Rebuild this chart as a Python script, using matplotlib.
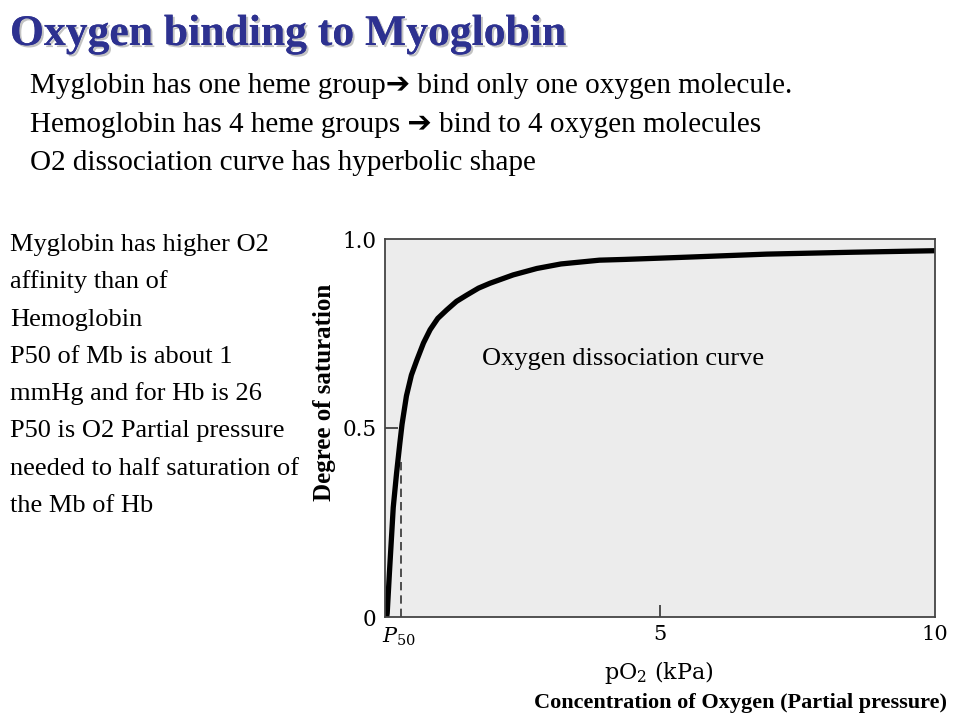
import numpy as np
import matplotlib.pyplot as plt
import matplotlib.patheffects as pe

# values
po2 = [0.03, 0.04, 0.08, 0.15, 0.21, 0.27, 0.31, 0.39, 0.48, 0.58, 0.70, 0.82, 0.96,
       1.12, 1.30, 1.49, 1.70, 1.91, 2.33, 2.76, 3.20, 3.90, 4.36, 5.50, 6.94, 8.50, 10.0]
sat = [0.0, 0.01, 0.116, 0.29, 0.38, 0.46, 0.51, 0.585, 0.64, 0.68, 0.725, 0.76, 0.79,
       0.812, 0.835, 0.852, 0.87, 0.883, 0.905, 0.922, 0.934, 0.944, 0.946, 0.952, 0.960, 0.965, 0.969]
p50_x = 0.29
p50_top = 0.415

x_ticks = [0.25, 5, 10]
x_labels = ['$P_{50}$', '5', '10']
y_ticks = [0, 0.5, 1.0]
y_labels = ['0', '0.5', '1.0']

title = 'Oxygen binding to Myoglobin'
top_lines = ['Myglobin has one heme group\u2794 bind only one oxygen molecule.',
             'Hemoglobin has 4 heme groups \u2794 bind to 4 oxygen molecules',
             'O2 dissociation curve has hyperbolic shape']
side_lines = ['Myglobin has higher O2', 'affinity than of', 'Hemoglobin',
              'P50 of Mb is about 1', 'mmHg and for Hb is 26',
              'P50 is O2 Partial pressure', 'needed to half saturation of',
              'the Mb of Hb']

W, H = 960, 720


def fx(x):
    return x / W


def fy(y):
    return 1 - y / H


serif = ['Liberation Serif', 'DejaVu Sans']
plt.rcParams['mathtext.fontset'] = 'dejavuserif'

fig = plt.figure(figsize=(9.6, 7.2), dpi=100)
ax = fig.add_axes([fx(385), fy(617), fx(550), 378 / H])
ax.set_facecolor('#ececec')

ax.plot(po2, sat, color='black', lw=3.8, solid_capstyle='butt', solid_joinstyle='round')
ax.plot([p50_x, p50_x], [0, p50_top], color='#333333', lw=1.2, ls=(0, (5, 3)))

ax.set_xlim(0, 10)
ax.set_ylim(0, 1.0)
for s in ax.spines.values():
    s.set_color('#444444')
    s.set_linewidth(1.3)

ax.set_xticks(x_ticks)
ax.set_xticklabels(x_labels, fontfamily='DejaVu Serif', fontsize=15)
ax.set_yticks(y_ticks)
ax.set_yticklabels(y_labels, fontfamily='DejaVu Serif', fontsize=15.5)
ax.tick_params(direction='in', length=9, width=1.2, color='#333333', pad=6)
ax.xaxis.get_major_ticks()[0].tick1line.set_visible(False)
ax.xaxis.get_major_ticks()[2].tick1line.set_visible(False)
ax.yaxis.get_major_ticks()[0].tick1line.set_visible(False)
ax.yaxis.get_major_ticks()[2].tick1line.set_visible(False)

fig.text(fx(482), fy(365), 'Oxygen dissociation curve', family=serif, fontsize=19,
         va='baseline', ha='left')

fig.text(fx(324), fy(392), 'Degree of saturation', family=serif, fontsize=18,
         fontweight='bold', rotation=90, va='center', ha='center')
fig.text(fx(659), fy(672), 'pO$_2$ (kPa)', family='DejaVu Serif', fontsize=16,
         va='center', ha='center')
fig.text(fx(947), fy(703), 'Concentration of Oxygen (Partial pressure)', family=serif,
         fontsize=16, fontweight='bold', va='center', ha='right')

fig.text(fx(10), fy(45), title, family=serif, fontsize=31.4, fontweight='bold',
         color='#2d3190', va='baseline', ha='left',
         path_effects=[pe.withSimplePatchShadow(offset=(1.5, -1.5), shadow_rgbFace='#888888', alpha=0.5),
                       pe.Normal()])

for i, line in enumerate(top_lines):
    fig.text(fx(30), fy(93 + 38.5 * i), line, family=serif, fontsize=21,
             va='baseline', ha='left')

for i, line in enumerate(side_lines):
    fig.text(fx(10), fy(251 + 37.3 * i), line, family=serif, fontsize=19,
             va='baseline', ha='left')

fig.savefig('out.png', dpi=100)
